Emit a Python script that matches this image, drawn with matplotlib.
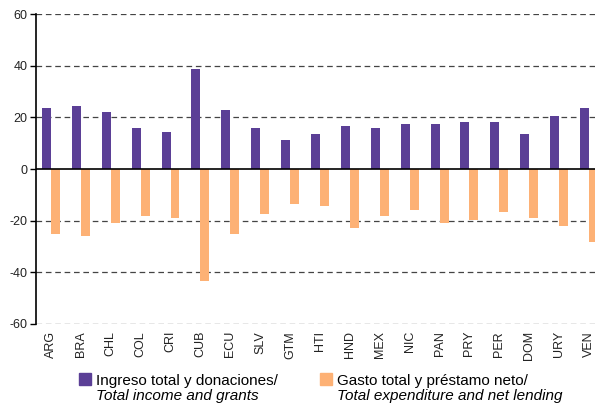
import matplotlib
matplotlib.use('Agg')
import matplotlib.pyplot as plt
import numpy as np
from matplotlib.patches import Rectangle

plt.rcParams['font.family'] = ['Liberation Sans', 'DejaVu Sans']

countries = ['ARG', 'BRA', 'CHL', 'COL', 'CRI', 'CUB', 'ECU', 'SLV', 'GTM', 'HTI',
             'HND', 'MEX', 'NIC', 'PAN', 'PRY', 'PER', 'DOM', 'URY', 'VEN']
income = [23.8, 24.5, 22.2, 15.9, 14.2, 38.8, 23.0, 15.9, 11.1, 13.4,
          16.6, 15.8, 17.4, 17.4, 18.1, 18.1, 13.4, 20.5, 23.8]
expenditure = [-25.2, -26.1, -20.9, -18.2, -19.0, -43.2, -25.2, -17.4, -13.5, -14.2,
               -22.9, -18.2, -15.8, -20.9, -19.9, -16.6, -19.0, -22.1, -28.3]
y_ticks = [-60, -40, -20, 0, 20, 40, 60]

purple = '#5B3F96'
orange = '#FDB175'

fig = plt.figure(figsize=(5.95, 4.05), dpi=100)
ax = fig.add_axes([36 / 595, 1 - 324 / 405, 1 - 36 / 595, 310 / 405])

x = np.arange(len(countries))
w = 0.3
ax.bar(x - w / 2, income, w, color=purple, zorder=3)
ax.bar(x + w / 2, expenditure, w, color=orange, zorder=3)

ax.set_ylim(-60, 60)
ax.set_xlim(-0.5, 18.2)
ax.set_yticks(y_ticks)
ax.set_yticklabels([str(t) for t in y_ticks], fontsize=9, color='#222222')
for t in y_ticks:
    if t != 0:
        ax.axhline(t, color='#444444', lw=0.9, ls=(0, (4.5, 3)), zorder=1)
ax.axhline(0, color='black', lw=1.2, zorder=4)

ax.set_xticks(x)
ax.set_xticklabels(countries, rotation=90, fontsize=9, color='#222222')
ax.tick_params(axis='x', length=0, pad=5)
ax.tick_params(axis='y', length=4, width=1, pad=2)

for side in ['top', 'right', 'bottom']:
    ax.spines[side].set_visible(False)
ax.spines['left'].set_linewidth(1.2)

# legend drawn by hand: two-line labels, second line italic
fig.add_artist(Rectangle((79 / 595, 1 - 385 / 405), 12 / 595, 12 / 405,
                         transform=fig.transFigure, color=purple))
fig.text(96 / 595, 1 - 385 / 405, 'Ingreso total y donaciones/', fontsize=11, va='baseline')
fig.text(96 / 595, 1 - 400 / 405, 'Total income and grants', fontsize=11, style='italic', va='baseline')

fig.add_artist(Rectangle((320 / 595, 1 - 385 / 405), 12 / 595, 12 / 405,
                         transform=fig.transFigure, color=orange))
fig.text(337 / 595, 1 - 385 / 405, 'Gasto total y préstamo neto/', fontsize=11, va='baseline')
fig.text(337 / 595, 1 - 400 / 405, 'Total expenditure and net lending', fontsize=11, style='italic', va='baseline')

fig.savefig('out.png', dpi=100)
